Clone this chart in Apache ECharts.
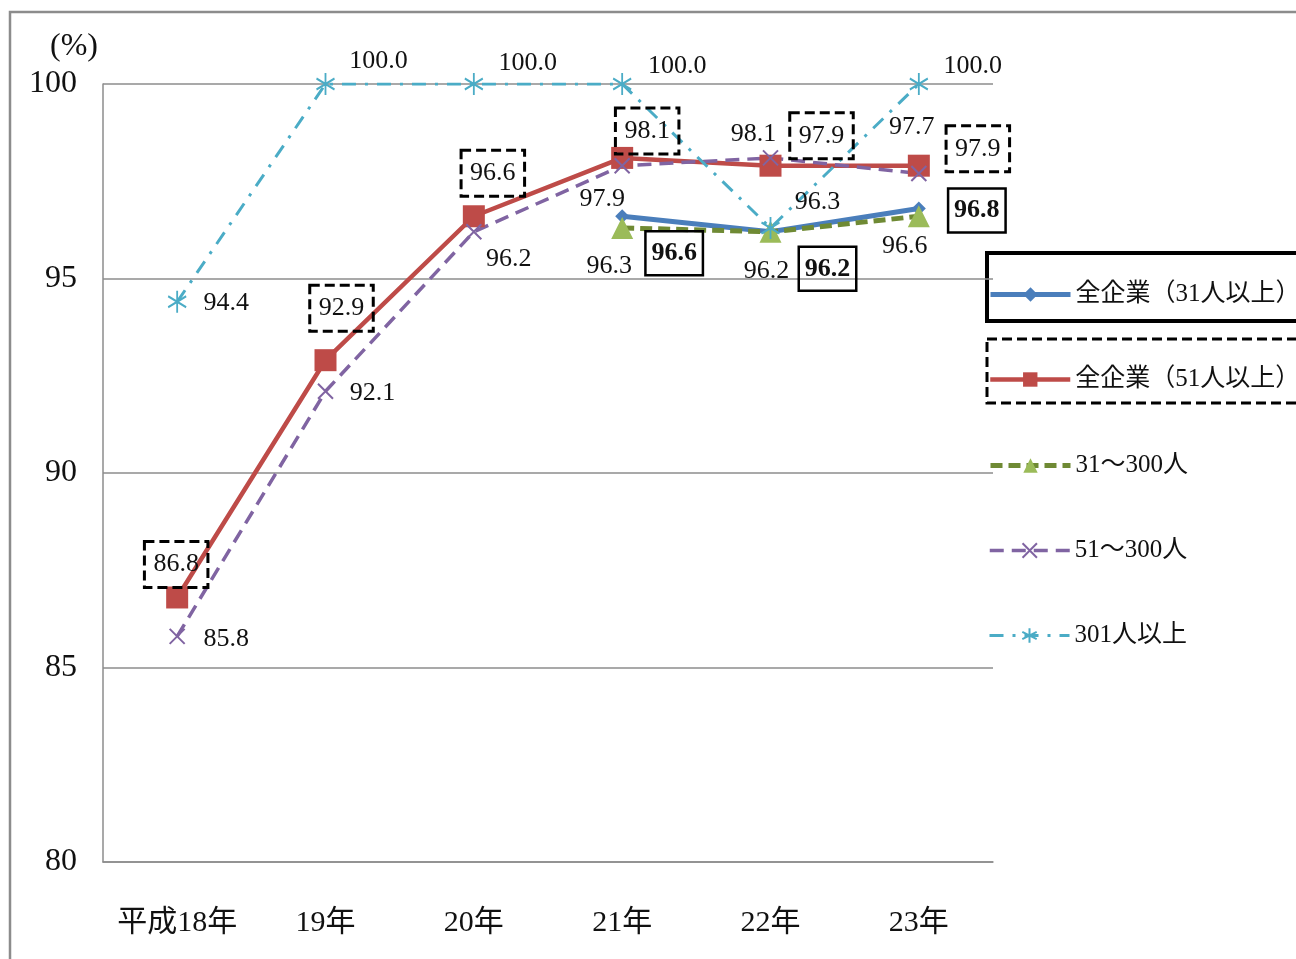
<!DOCTYPE html>
<html>
<head>
<meta charset="utf-8">
<script src="https://cdn.jsdelivr.net/npm/echarts@6/dist/echarts.min.js"></script>
<style>
  html, body { margin: 0; padding: 0; background: #fff; }
  #chart { width: 1296px; height: 959px; }
</style>
</head>
<body>
<div id="chart"></div>
<script>
// Categories and values (%)
const categories = ['平成18年', '19年', '20年', '21年', '22年', '23年'];
const all31 = [null, null, null, 96.6, 96.2, 96.8];
const all51 = [86.8, 92.9, 96.6, 98.1, 97.9, 97.9];
const size31to300 = [null, null, null, 96.3, 96.2, 96.6];
const size51to300 = [85.8, 92.1, 96.2, 97.9, 98.1, 97.7];
const size301plus = [94.4, 100.0, 100.0, 100.0, 96.3, 100.0];
const seriesNames = ['全企業（31人以上）', '全企業（51人以上）', '31～300人', '51～300人', '301人以上'];
const yTicks = [80, 85, 90, 95, 100];

// Label placement (offset of the label centre from its point, px)
const offAll31 = [null, null, null, [52, 37], [57, 37], [58, 2]];
const offAll51 = [[-1, -33], [16, -52], [19, -43], [25, -27], [51, -30], [59, -17]];
const off31to300 = [null, null, null, [-13, 38], [-4, 39], [-14, 30]];
const off51to300 = [[49, 3], [47, 2], [35, 27], [-20, 33], [-17, -24], [-7, -46]];
const off301plus = [[49, 1], [53, -23], [54, -21], [55, -18], [47, -26], [54, -18]];

const SERIF = '"Liberation Serif", "DejaVu Serif", "Noto Sans CJK JP", serif';
const JP = '"Liberation Serif", "Noto Sans CJK JP", serif';

const colors = ['#4a7ebb', '#be4b48', '#6f8a34', '#8064a2', '#4bacc6'];
const lineWidths = [5, 4.5, 5, 3.5, 3];
const dashes = ['solid', 'solid', [12, 6], [14, 8], [14, 9, 3, 9]];

const baseLabel = {
  show: true,
  position: 'inside',
  fontFamily: SERIF,
  fontSize: 26,
  color: '#111',
  formatter: p => p.value.toFixed(1)
};
const dashedBox = Object.assign({}, baseLabel, {
  borderColor: '#000', borderWidth: 3, borderType: [10, 5],
  padding: [11, 9, 9, 9]
});
const solidBox = Object.assign({}, baseLabel, {
  fontWeight: 'bold', fontSize: 26,
  borderColor: '#000', borderWidth: 2.5, borderType: 'solid',
  padding: [10, 6, 8, 6]
});

function build(values, offsets) {
  return values.map((v, i) => v == null ? null : { value: v, label: { offset: offsets[i] } });
}

const crossPath = 'path://M0,0 L10,10 M10,0 L0,10';
const starPath = 'path://M5,0 L5,12 M0.2,3 L9.8,9 M9.8,3 L0.2,9';

const option = {
  animation: false,
  backgroundColor: '#fff',
  grid: { left: 103, right: 303, top: 84, bottom: 97 },
  xAxis: {
    type: 'category',
    data: categories,
    boundaryGap: true,
    axisLine: { lineStyle: { color: '#8c8c8c', width: 1.5 } },
    axisTick: { show: false },
    axisLabel: { interval: 0, fontFamily: JP, fontSize: 30, color: '#111', margin: 46 }
  },
  yAxis: {
    type: 'value',
    min: yTicks[0], max: yTicks[yTicks.length - 1], interval: 5,
    axisLine: { show: true, lineStyle: { color: '#8c8c8c', width: 1.5 } },
    axisTick: { show: false },
    splitLine: { lineStyle: { color: '#8c8c8c', width: 1.5 } },
    axisLabel: { fontFamily: SERIF, fontSize: 32, color: '#111', margin: 26 }
  },
  legend: seriesNames.map((n, i) => ({
    data: [n],
    left: 988,
    top: [282, 367, 453, 538, 623][i],
    padding: 0,
    itemWidth: 80,
    itemHeight: 18,
    itemGap: 0,
    selectedMode: false,
    lineStyle: { width: lineWidths[i], color: colors[i], type: dashes[i] },
    textStyle: { fontFamily: JP, fontSize: 25, color: '#111' }
  })),
  series: [
    {
      name: seriesNames[0], type: 'line', data: build(all31, offAll31),
      symbol: 'diamond', symbolSize: 14,
      lineStyle: { color: colors[0], width: lineWidths[0] },
      itemStyle: { color: colors[0] },
      label: solidBox
    },
    {
      name: seriesNames[1], type: 'line', data: build(all51, offAll51),
      symbol: 'rect', symbolSize: 22,
      lineStyle: { color: colors[1], width: lineWidths[1] },
      itemStyle: { color: colors[1] },
      label: dashedBox
    },
    {
      name: seriesNames[2], type: 'line', data: build(size31to300, off31to300),
      symbol: 'triangle', symbolSize: [22, 22],
      lineStyle: { color: colors[2], width: lineWidths[2], type: dashes[2] },
      itemStyle: { color: '#9bbb59' },
      label: baseLabel
    },
    {
      name: seriesNames[3], type: 'line', data: build(size51to300, off51to300),
      symbol: crossPath, symbolSize: 15,
      lineStyle: { color: colors[3], width: lineWidths[3], type: dashes[3] },
      itemStyle: { color: colors[3], borderColor: colors[3], borderWidth: 2 },
      label: baseLabel
    },
    {
      name: seriesNames[4], type: 'line', data: build(size301plus, off301plus),
      symbol: starPath, symbolSize: [18, 22],
      lineStyle: { color: colors[4], width: lineWidths[4], type: dashes[4] },
      itemStyle: { color: colors[4], borderColor: colors[4], borderWidth: 2 },
      label: baseLabel
    }
  ],
  graphic: [
    { type: 'rect', silent: true, z: 100,
      shape: { x: 10, y: 12, width: 1400, height: 1000 },
      style: { fill: 'none', stroke: '#8c8c8c', lineWidth: 2.5 } },
    { type: 'text', left: 50, top: 31, silent: true,
      style: { text: '(%)', font: '32px ' + SERIF, fill: '#111' } },
    { type: 'rect', silent: true,
      shape: { x: 987, y: 253, width: 400, height: 68 },
      style: { fill: 'none', stroke: '#000', lineWidth: 4 } },
    { type: 'rect', silent: true,
      shape: { x: 987, y: 339, width: 400, height: 64 },
      style: { fill: 'none', stroke: '#000', lineWidth: 3, lineDash: [10, 5] } }
  ]
};

echarts.init(document.getElementById('chart')).setOption(option);
</script>
</body>
</html>
